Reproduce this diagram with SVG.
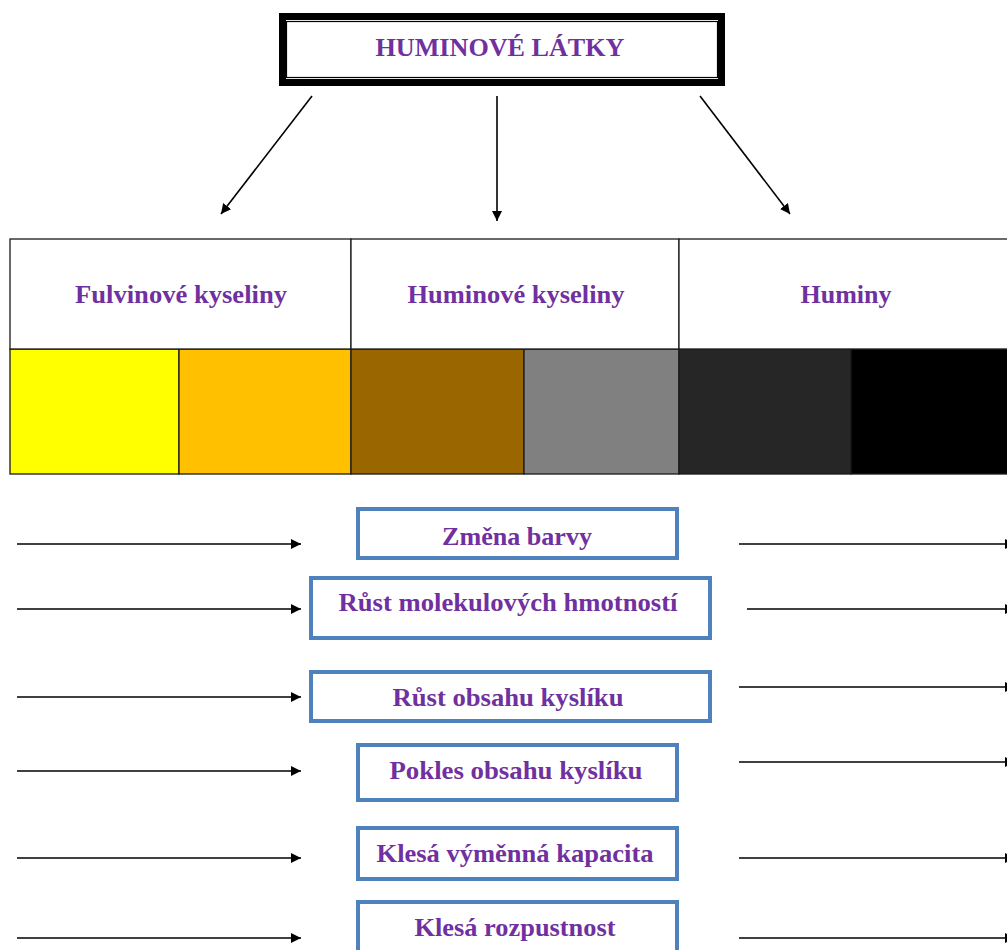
<svg xmlns="http://www.w3.org/2000/svg" width="1007" height="950" viewBox="0 0 1007 950">
<style>
.t{font-family:"Liberation Serif","Times New Roman",serif;font-weight:bold;fill:#7030A0;text-anchor:middle;font-size:25px}
.box{fill:#fff;stroke:#4F81BD;stroke-width:4}
.ln{stroke:#000;stroke-width:1.6;fill:none}
.cell{stroke:#1a1a1a;stroke-width:1.3}
</style>
<defs>
<marker id="ah" viewBox="0 0 10 10" refX="10" refY="5" markerWidth="10" markerHeight="10" markerUnits="userSpaceOnUse" orient="auto">
<path d="M0,0 L10,5 L0,10 Z" fill="#000"/>
</marker>
</defs>
<rect width="1007" height="950" fill="#fff"/>
<g id="title">
<rect x="282.5" y="16.5" width="439" height="66" fill="#fff" stroke="#000" stroke-width="7"/>
<rect x="286.5" y="21.5" width="431" height="56" fill="none" stroke="#000" stroke-width="1.2"/>
<text class="t" x="500" y="56" textLength="249" lengthAdjust="spacingAndGlyphs">HUMINOVÉ LÁTKY</text>
</g>
<g id="table">
<rect class="cell" x="10" y="349" width="169" height="125" fill="#FFFF00"/>
<rect class="cell" x="179" y="349" width="172" height="125" fill="#FFC000"/>
<rect class="cell" x="351" y="349" width="173" height="125" fill="#996600"/>
<rect class="cell" x="524" y="349" width="155" height="125" fill="#808080"/>
<rect class="cell" x="679" y="349" width="172" height="125" fill="#262626"/>
<rect class="cell" x="851" y="349" width="170" height="125" fill="#000000"/>
<g id="fulvinove">
<rect class="cell" x="10" y="239" width="341" height="110" fill="#fff"/>
<text class="t" x="181" y="303" textLength="212" lengthAdjust="spacingAndGlyphs">Fulvinové kyseliny</text>
</g>
<g id="huminove">
<rect class="cell" x="351" y="239" width="328" height="110" fill="#fff"/>
<text class="t" x="516" y="303" textLength="217" lengthAdjust="spacingAndGlyphs">Huminové kyseliny</text>
</g>
<g id="huminy">
<rect class="cell" x="679" y="239" width="342" height="110" fill="#fff"/>
<text class="t" x="846" y="303" textLength="91" lengthAdjust="spacingAndGlyphs">Huminy</text>
</g>
</g>
<g id="n1"><rect class="box" x="358" y="509" width="319" height="49"/>
<text class="t" x="517" y="545" textLength="150" lengthAdjust="spacingAndGlyphs">Změna barvy</text></g>
<g id="n2"><rect class="box" x="311" y="578" width="399" height="60"/>
<text class="t" x="508" y="611" textLength="339" lengthAdjust="spacingAndGlyphs">Růst molekulových hmotností</text></g>
<g id="n3"><rect class="box" x="311" y="672" width="399" height="49"/>
<text class="t" x="508" y="706" textLength="231" lengthAdjust="spacingAndGlyphs">Růst obsahu kyslíku</text></g>
<g id="n4"><rect class="box" x="358" y="745" width="319" height="55"/>
<text class="t" x="516" y="779" textLength="253" lengthAdjust="spacingAndGlyphs">Pokles obsahu kyslíku</text></g>
<g id="n5"><rect class="box" x="358" y="828" width="319" height="51"/>
<text class="t" x="515" y="862" textLength="277" lengthAdjust="spacingAndGlyphs">Klesá výměnná kapacita</text></g>
<g id="n6"><rect class="box" x="358" y="902" width="319" height="60"/>
<text class="t" x="515" y="936" textLength="201" lengthAdjust="spacingAndGlyphs">Klesá rozpustnost</text></g>
<g id="connectors">
<line class="ln" x1="312" y1="96" x2="221" y2="214" marker-end="url(#ah)"/>
<line class="ln" x1="497" y1="96" x2="497" y2="221" marker-end="url(#ah)"/>
<line class="ln" x1="700" y1="96" x2="790" y2="214" marker-end="url(#ah)"/>
<line class="ln" x1="17" y1="544" x2="301" y2="544" marker-end="url(#ah)"/>
<line class="ln" x1="17" y1="609" x2="301" y2="609" marker-end="url(#ah)"/>
<line class="ln" x1="17" y1="697" x2="301" y2="697" marker-end="url(#ah)"/>
<line class="ln" x1="17" y1="771" x2="301" y2="771" marker-end="url(#ah)"/>
<line class="ln" x1="17" y1="858" x2="301" y2="858" marker-end="url(#ah)"/>
<line class="ln" x1="17" y1="938" x2="301" y2="938" marker-end="url(#ah)"/>
<line class="ln" x1="739" y1="544" x2="1015" y2="544" marker-end="url(#ah)"/>
<line class="ln" x1="747" y1="609" x2="1015" y2="609" marker-end="url(#ah)"/>
<line class="ln" x1="739" y1="687" x2="1015" y2="687" marker-end="url(#ah)"/>
<line class="ln" x1="739" y1="762" x2="1015" y2="762" marker-end="url(#ah)"/>
<line class="ln" x1="739" y1="858" x2="1015" y2="858" marker-end="url(#ah)"/>
<line class="ln" x1="739" y1="938" x2="1015" y2="938" marker-end="url(#ah)"/>
</g>
</svg>
